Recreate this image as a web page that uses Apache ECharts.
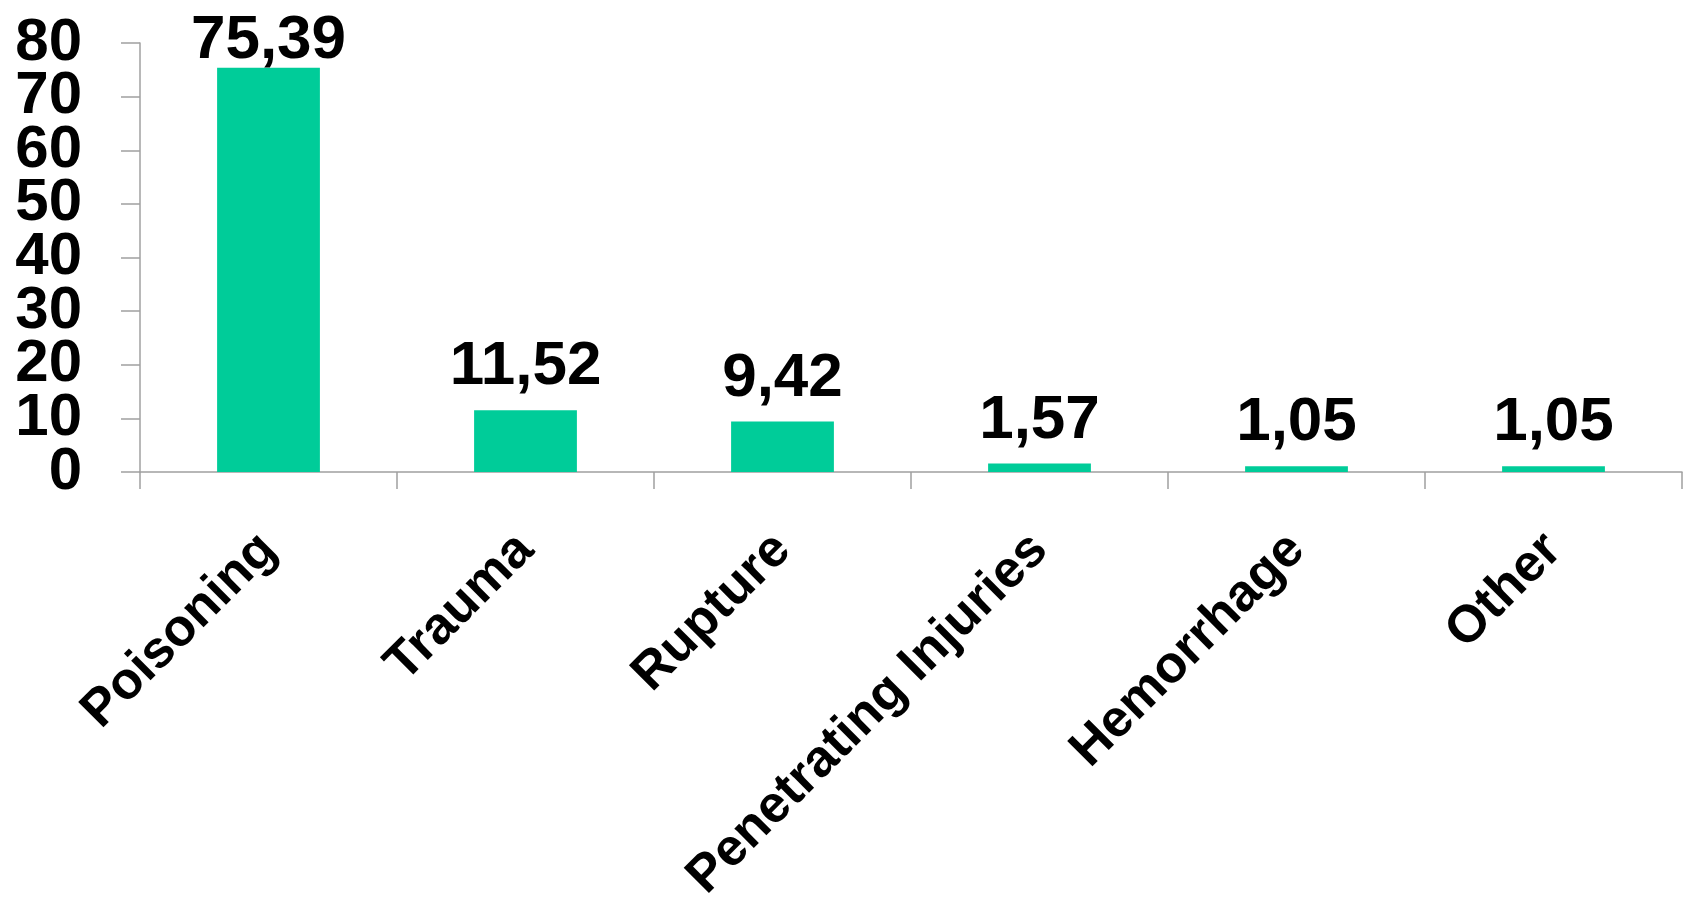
<!DOCTYPE html>
<html>
<head>
<meta charset="utf-8">
<script src="https://cdn.jsdelivr.net/npm/echarts@6/dist/echarts.min.js"></script>
<style>
html,body{margin:0;padding:0;background:#fff;}
#chart{width:1688px;height:903px;}
</style>
</head>
<body>
<div id="chart"></div>
<script>
const categories = ['Poisoning', 'Trauma', 'Rupture', 'Penetrating Injuries', 'Hemorrhage', 'Other'];
const values = [75.39, 11.52, 9.42, 1.57, 1.05, 1.05];
const yTicks = [0, 10, 20, 30, 40, 50, 60, 70, 80];

const FONT = '"Liberation Sans", Arial, sans-serif';
const AXIS_COLOR = '#a0a0a0';

// the tallest bar's label sits closer to its bar (clamped inside the plot in the original)
const seriesData = values.map((v, i) => i === 0 ? {value: v, label: {distance: -4}} : v);

// tick labels are tightly packed; split them over two coincident axes so none is auto-hidden
const labelStyle = {
  margin: 58,
  showMinLabel: true,
  showMaxLabel: true,
  hideOverlap: false,
  color: '#000',
  fontFamily: FONT,
  fontWeight: 'bold',
  fontSize: 60
};
function yAxisDef(parity, withLine) {
  return {
    type: 'value',
    position: 'left',
    offset: 0,
    min: yTicks[0],
    max: yTicks[yTicks.length - 1],
    interval: yTicks[1] - yTicks[0],
    axisLine: {show: withLine, lineStyle: {color: AXIS_COLOR, width: 1.5}},
    axisTick: {show: withLine, length: 19, lineStyle: {color: AXIS_COLOR, width: 1.5}},
    axisLabel: Object.assign({}, labelStyle, {
      formatter: v => {
        const idx = yTicks.indexOf(v);
        return (idx >= 0 && idx % 2 === parity) ? String(yTicks[idx]) : '';
      }
    }),
    splitLine: {show: false}
  };
}

const chart = echarts.init(document.getElementById('chart'), null, {renderer: 'canvas'});
chart.setOption({
  animation: false,
  backgroundColor: '#ffffff',
  grid: {left: 140, right: 6, top: 43, bottom: 431, containLabel: false, outerBoundsMode: 'none'},
  xAxis: {
    type: 'category',
    data: categories,
    boundaryGap: true,
    axisLine: {show: true, lineStyle: {color: AXIS_COLOR, width: 1.5}},
    axisTick: {show: true, length: 17, alignWithLabel: false, lineStyle: {color: AXIS_COLOR, width: 1.5}},
    axisLabel: {
      rotate: 45,
      interval: 0,
      margin: 70,
      hideOverlap: false,
      color: '#000',
      fontFamily: FONT,
      fontWeight: 'bold',
      fontSize: 52
    },
    splitLine: {show: false}
  },
  yAxis: [yAxisDef(0, true), yAxisDef(1, false)],
  series: [{
    type: 'bar',
    yAxisIndex: 0,
    data: seriesData,
    barWidth: '40%',
    itemStyle: {color: '#00CC99'},
    label: {
      show: true,
      position: 'top',
      distance: 12,
      color: '#000',
      fontFamily: FONT,
      fontWeight: 'bold',
      fontSize: 62,
      formatter: p => p.value.toFixed(2).replace('.', ',')
    }
  }]
});
</script>
</body>
</html>
